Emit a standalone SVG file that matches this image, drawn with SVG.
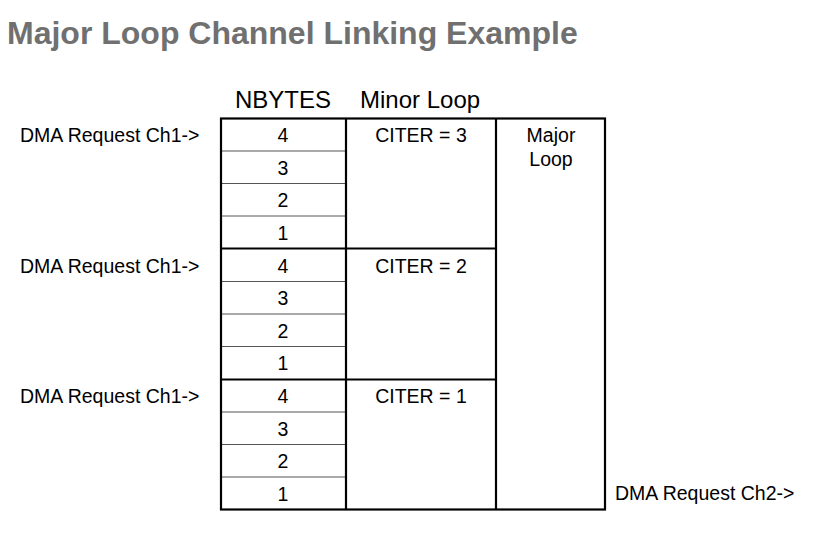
<svg xmlns="http://www.w3.org/2000/svg" width="840" height="545" viewBox="0 0 840 545">
<style>
text{font-family:"Liberation Sans",Arial,sans-serif;fill:#000}
.title{font-size:32px;font-weight:bold;fill:#707070}
.hdr{font-size:24px}
.c{font-size:19.5px;text-anchor:middle}
.l{font-size:19.5px}
.thin{stroke:#555;stroke-width:1;fill:none}
.thick{stroke:#000;stroke-width:2.2;fill:none}
</style>
<rect width="840" height="545" fill="#fff"/>
<text class="title" x="7" y="44">Major Loop Channel Linking Example</text>
<g id="headers">
<text class="hdr" x="235" y="108">NBYTES</text>
<text class="hdr" x="360" y="108">Minor Loop</text>
</g>
<g id="requests">
<text class="l" x="20" y="142">DMA Request Ch1-&gt;</text>
<text class="l" x="20" y="273">DMA Request Ch1-&gt;</text>
<text class="l" x="20" y="403">DMA Request Ch1-&gt;</text>
<text class="l" x="615" y="500">DMA Request Ch2-&gt;</text>
</g>
<g id="nbytes">
<path class="thin" d="M221 151H346M221 183.5H346M221 216H346M221 281.5H346M221 314H346M221 346.5H346M221 412H346M221 444.5H346M221 477H346"/>
<text class="c" x="283" y="142">4</text>
<text class="c" x="283" y="175">3</text>
<text class="c" x="283" y="207">2</text>
<text class="c" x="283" y="240">1</text>
<text class="c" x="283" y="273">4</text>
<text class="c" x="283" y="305">3</text>
<text class="c" x="283" y="338">2</text>
<text class="c" x="283" y="370">1</text>
<text class="c" x="283" y="403">4</text>
<text class="c" x="283" y="436">3</text>
<text class="c" x="283" y="468">2</text>
<text class="c" x="283" y="501">1</text>
</g>
<g id="minor">
<text class="c" x="421" y="142">CITER = 3</text>
<text class="c" x="421" y="273">CITER = 2</text>
<text class="c" x="421" y="403">CITER = 1</text>
</g>
<g id="major">
<text class="c" x="551" y="142">Major</text>
<text class="c" x="551" y="166">Loop</text>
</g>
<g id="frame">
<rect class="thick" x="221" y="118.5" width="384" height="391"/>
<path class="thick" d="M346 118.5V509.5M496 118.5V509.5M221 248.5H496M221 379.5H496"/>
</g>
</svg>
